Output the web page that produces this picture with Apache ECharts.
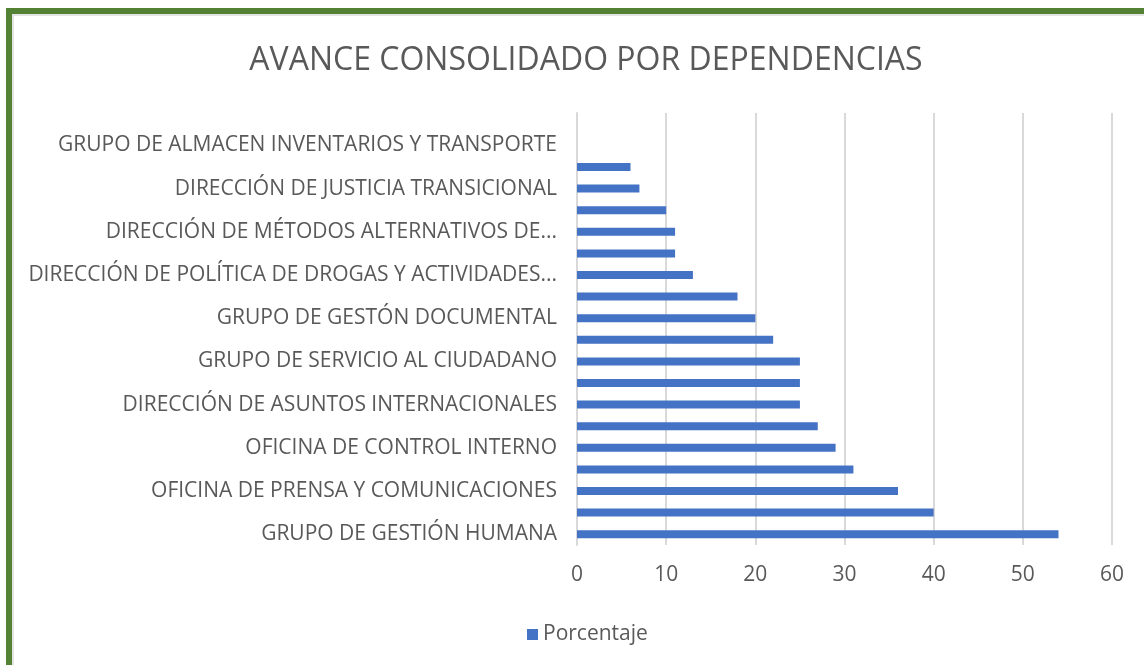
<!DOCTYPE html>
<html>
<head>
<meta charset="utf-8">
<script src="https://cdn.jsdelivr.net/npm/echarts@6/dist/echarts.min.js"></script>
<style>
  html, body { margin: 0; padding: 0; background: #fff; overflow: hidden; }
  #frame {
    position: absolute; left: 6px; top: 8px; width: 1200px; height: 700px;
    border-top: 6px solid #548235; border-left: 6px solid #548235;
    box-shadow: inset 2px 2px 0 #e4e4e4;
  }
  #chart { position: absolute; left: 0; top: 0; width: 1144px; height: 665px; }
</style>
</head>
<body>
<div id="frame"></div>
<div id="chart"></div>
<script>
// categorias de abajo hacia arriba (solo se ven las pares)
const categories = [
  "GRUPO DE GESTIÓN HUMANA",
  "dependencia 2",
  "OFICINA DE PRENSA Y COMUNICACIONES",
  "dependencia 4",
  "OFICINA DE CONTROL INTERNO",
  "dependencia 6",
  "DIRECCIÓN DE ASUNTOS INTERNACIONALES",
  "dependencia 8",
  "GRUPO DE SERVICIO AL CIUDADANO",
  "dependencia 10",
  "GRUPO DE GESTÓN DOCUMENTAL",
  "dependencia 12",
  "DIRECCIÓN DE POLÍTICA DE DROGAS Y ACTIVIDADES...",
  "dependencia 14",
  "DIRECCIÓN DE MÉTODOS ALTERNATIVOS DE...",
  "dependencia 16",
  "DIRECCIÓN DE JUSTICIA TRANSICIONAL",
  "dependencia 18",
  "GRUPO DE ALMACEN INVENTARIOS Y TRANSPORTE",
  "dependencia 20"
];
const porcentaje = [54, 40, 36, 31, 29, 27, 25, 25, 25, 22, 20, 18, 13, 11, 11, 10, 7, 6, 0, 0];
const xTicks = { min: 0, max: 60, interval: 10 };

const font = "Open Sans";
const grey = "#595959";

const chart = echarts.init(document.getElementById("chart"));
chart.setOption({
  animation: false,
  title: {
    text: "AVANCE CONSOLIDADO POR DEPENDENCIAS",
    left: 581,
    top: 40,
    textAlign: "center",
    textStyle: { color: grey, fontSize: 32, fontWeight: "normal", fontFamily: font }
  },
  legend: {
    left: 522,
    top: 619,
    icon: "rect",
    itemWidth: 11,
    itemHeight: 11,
    itemStyle: { borderWidth: 0 },
    textStyle: { color: grey, fontSize: 21, fontFamily: font }
  },
  grid: { left: 577, right: 32, top: 113, bottom: 120 },
  xAxis: {
    type: "value",
    min: xTicks.min,
    max: xTicks.max,
    interval: xTicks.interval,
    axisLine: { show: false },
    axisTick: { show: false },
    axisLabel: { color: grey, fontSize: 21, fontFamily: font, margin: 20 },
    splitLine: { lineStyle: { color: "#d9d9d9", width: 2 } }
  },
  yAxis: {
    type: "category",
    data: categories,
    axisLine: { lineStyle: { color: "#d9d9d9", width: 2 } },
    axisTick: { show: false },
    axisLabel: { interval: 1, color: grey, fontSize: 21, fontFamily: font, margin: 20 }
  },
  series: [{
    name: "Porcentaje",
    type: "bar",
    data: porcentaje,
    barWidth: 8,
    itemStyle: { color: "#4472c4", borderWidth: 0 }
  }]
});
</script>
</body>
</html>
